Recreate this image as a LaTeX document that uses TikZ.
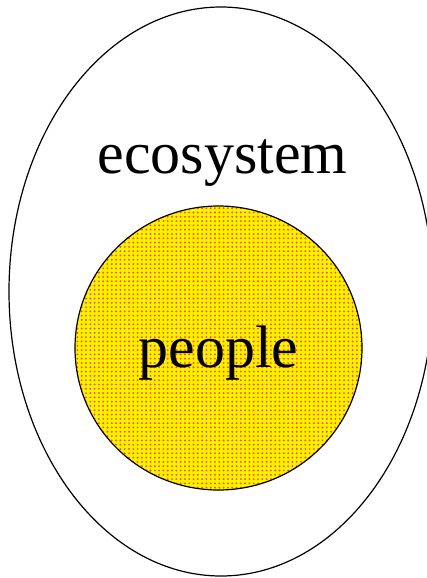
\documentclass[tikz,border=0pt]{standalone}
\usepackage{fontspec}
\setmainfont{Liberation Serif}
\usetikzlibrary{shapes.geometric,patterns.meta}

\definecolor{dotred}{RGB}{250,80,10}

\tikzset{
    ring/.style={draw,ellipse,line width=1.2pt,inner sep=0pt},
    label/.style={font=\fontsize{60}{60}\selectfont,inner sep=0pt,anchor=base}
}

\begin{document}
\begin{tikzpicture}[x=1pt,y=-1pt]
                \useasboundingbox (0,0) rectangle (427,578);
                \clip (0,0) rectangle (427,578);
                \node[ring,minimum width=424pt,minimum height=569pt] (ecosystem) at (221,291.5) {};
                \node[ring,minimum width=287pt,minimum height=284pt,
                    preaction={fill=yellow},
                    pattern={Dots[distance=4.3pt,radius=1.05pt]},pattern color=dotred] (people) at (218.5,348) {};
                \node[label] (ecotext) at (222.5,173) {ecosystem};
                \node[label] (peopletext) at (218.5,367) {people};
\end{tikzpicture}
\end{document}
